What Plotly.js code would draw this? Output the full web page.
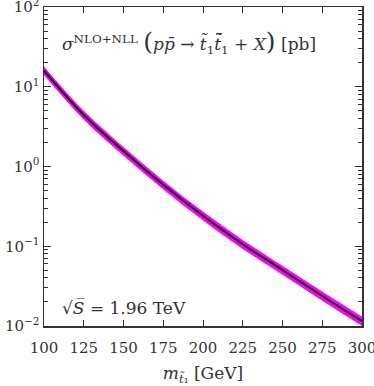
<!DOCTYPE html>
<html>
<head>
<meta charset="utf-8">
<script src="https://cdn.plot.ly/plotly-3.0.1.min.js"></script>
<style>
  html, body { margin: 0; padding: 0; background: #fff; }
  #chart { width: 374px; height: 386px; }
</style>
</head>
<body>
<div id="chart"></div>
<script>
// stop mass (GeV) and NLO+NLL cross section (pb)
const masses = [100, 125, 150, 175, 200, 225, 250, 275, 300];
const sigmaCentral = [15.9, 4.42, 1.56, 0.589, 0.241, 0.106, 0.0504, 0.0238, 0.0115];
const sigmaUpper = [18.0, 5.00, 1.76, 0.665, 0.272, 0.120, 0.0570, 0.0270, 0.0131];
const sigmaLower = [13.9, 3.86, 1.36, 0.515, 0.211, 0.0925, 0.0440, 0.0207, 0.0100];

const yTickVals = [0.01, 0.1, 1, 10, 100];
const yTickText = ['10<sup>\u22122</sup>', '10<sup>\u22121</sup>', '10<sup>0</sup>', '10<sup>1</sup>', '10<sup>2</sup>'];
const yMinorVals = [];
[0.01, 0.1, 1, 10].forEach(d => {
    for (let k = 2; k <= 9; k++) yMinorVals.push(d * k);
});

const fontFamily = 'DejaVu Serif';
const axisColor = '#333';

const traces = [
    {
        x: masses, y: sigmaLower,
        mode: 'lines', line: { color: 'rgba(0,0,0,0)', width: 0, shape: 'spline' },
        hoverinfo: 'skip', showlegend: false
    },
    {
        x: masses, y: sigmaUpper,
        mode: 'lines', line: { color: 'rgba(0,0,0,0)', width: 0, shape: 'spline' },
        fill: 'tonexty', fillcolor: '#ff00ff',
        hoverinfo: 'skip', showlegend: false
    },
    {
        x: masses, y: sigmaCentral,
        mode: 'lines', line: { color: '#000', width: 2, shape: 'spline' },
        showlegend: false
    }
];

const layout = {
    width: 374,
    height: 386,
    margin: { l: 44, r: 12, t: 7, b: 60 },
    paper_bgcolor: '#fff',
    plot_bgcolor: '#fff',
    font: { family: fontFamily, color: axisColor, size: 15 },
    showlegend: false,
    xaxis: {
        range: [100, 300],
        dtick: 25,
        tick0: 100,
        ticks: 'inside',
        ticklen: 6,
        tickcolor: axisColor,
        showline: true,
        linecolor: axisColor,
        linewidth: 1.5,
        mirror: 'allticks',
        showgrid: false,
        zeroline: false,
        automargin: false,
        ticklabeloverflow: 'allow',
        ticklabelstandoff: 7,
        tickfont: { size: 15, family: fontFamily, color: axisColor },
        title: {
            text: '<i>m</i><sub><i>t\u0303</i>\u2081</sub> [GeV]',
            font: { size: 17, family: fontFamily, color: axisColor },
            standoff: 14
        }
    },
    yaxis: {
        type: 'log',
        range: [-2, 2],
        tickmode: 'array',
        tickvals: yTickVals,
        ticktext: yTickText,
        ticks: 'inside',
        ticklen: 7,
        tickcolor: axisColor,
        showline: true,
        linecolor: axisColor,
        linewidth: 1.5,
        mirror: 'allticks',
        showgrid: false,
        zeroline: false,
        automargin: false,
        ticklabeloverflow: 'allow',
        tickfont: { size: 15, family: fontFamily, color: axisColor },
        minor: {
            tickmode: 'array',
            tickvals: yMinorVals,
            ticks: 'inside',
            ticklen: 4,
            tickcolor: axisColor,
            showgrid: false
        }
    },
    annotations: [
        {
            xref: 'paper', yref: 'paper', x: 0.05, y: 0.89,
            xanchor: 'left', yanchor: 'middle', showarrow: false,
            font: { size: 17, family: fontFamily, color: axisColor },
            text: '<i>\u03c3</i><sup>NLO+NLL</sup> <span style="font-size:25px">(</span><i>pp\u0304</i> \u2192 <i>t\u0303</i><sub>1</sub><i>t\u0303\u0304</i><sub>1</sub> + <i>X</i><span style="font-size:25px">)</span> [pb]'
        },
        {
            xref: 'paper', yref: 'paper', x: 0.05, y: 0.055,
            xanchor: 'left', yanchor: 'middle', showarrow: false,
            font: { size: 17, family: fontFamily, color: axisColor },
            text: '\u221a<i>S\u0305</i> = 1.96 TeV'
        }
    ]
};

Plotly.newPlot('chart', traces, layout, { displayModeBar: false, staticPlot: true });
</script>
</body>
</html>
